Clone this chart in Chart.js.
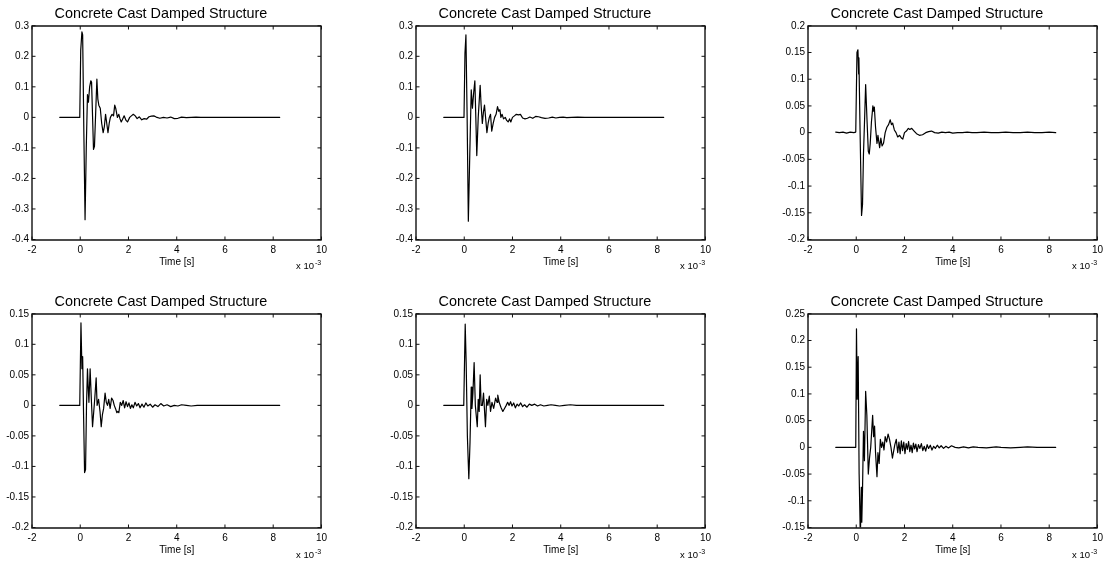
<!DOCTYPE html>
<html>
<head>
<meta charset="utf-8">
<title>Concrete Cast Damped Structure</title>
<script src="https://cdn.jsdelivr.net/npm/chart.js@4.4.1/dist/chart.umd.min.js"></script>
<style>
  html, body { margin: 0; padding: 0; background: #fff; }
  #page { position: relative; width: 1109px; height: 563px; overflow: hidden; font-family: "Liberation Sans", Arial, sans-serif; }
  #page canvas { position: absolute; }
  .expo { position: absolute; font-size: 9.5px; color: #000; white-space: nowrap; line-height: 1; }
  .expo sup { font-size: 7px; position: relative; top: -4px; vertical-align: baseline; margin-left: 1px; }
</style>
</head>
<body>
<div id="page"></div>
<script>
// =====================
// Data (time in units of 1e-3 s)
// =====================
const chartTitle = "Concrete Cast Damped Structure";
const xLabel = "Time [s]";
const xTicks = [-2, 0, 2, 4, 6, 8, 10];

const yTicksA = [-0.4, -0.3, -0.2, -0.1, 0, 0.1, 0.2, 0.3];
const yTicksB = [-0.2, -0.15, -0.1, -0.05, 0, 0.05, 0.1, 0.15, 0.2];
const yTicksC = [-0.2, -0.15, -0.1, -0.05, 0, 0.05, 0.1, 0.15];
const yTicksD = [-0.15, -0.1, -0.05, 0, 0.05, 0.1, 0.15, 0.2, 0.25];

const t1 = [
  -0.85, -0.02, 0.02, 0.07, 0.10, 0.15, 0.20, 0.25, 0.30, 0.34,
  0.39, 0.44, 0.47, 0.55, 0.59, 0.69, 0.73, 0.77, 0.83, 0.89,
  0.95, 1.00, 1.05, 1.10, 1.15, 1.20, 1.25, 1.32, 1.38, 1.43,
  1.47, 1.54, 1.60, 1.65, 1.70, 1.76, 1.82, 1.90, 1.96, 2.05,
  2.12, 2.20, 2.28, 2.36, 2.45, 2.55, 2.65, 2.75, 2.85, 2.95,
  3.05, 3.15, 3.30, 3.45, 3.60, 3.75, 3.90, 4.05, 4.20, 4.40,
  4.60, 4.80, 5.00, 8.27
];
const v1 = [
  0, 0, 0.22, 0.28, 0.27, -0.05, -0.335, -0.10, 0.075, 0.05,
  0.10, 0.12, 0.115, -0.105, -0.095, 0.125, 0.06, 0.04, 0.03, -0.02,
  -0.05, -0.03, 0.01, -0.02, -0.05, -0.02, 0.0, 0.01, 0.005, 0.04,
  0.03, 0.0, 0.01, -0.005, -0.015, -0.005, 0.005, -0.01, -0.015, 0.0,
  0.005, 0.01, 0.005, -0.004, 0.002, -0.008, -0.004, -0.006, 0.002, 0.004,
  0.005, 0.001, -0.003, 0.0, -0.002, 0.001, -0.004, -0.003, 0.001, -0.001,
  0.0, 0.001, 0.0, 0
];

const t2 = [
  -0.85, -0.01, 0.03, 0.07, 0.12, 0.17, 0.23, 0.29, 0.34, 0.39,
  0.44, 0.48, 0.52, 0.58, 0.66, 0.70, 0.75, 0.80, 0.84, 0.94,
  0.99, 1.04, 1.09, 1.14, 1.20, 1.26, 1.32, 1.38, 1.43, 1.48,
  1.52, 1.57, 1.63, 1.70, 1.76, 1.82, 1.88, 1.93, 2.00, 2.08,
  2.16, 2.25, 2.33, 2.42, 2.52, 2.62, 2.72, 2.84, 2.96, 3.08,
  3.20, 3.35, 3.50, 3.65, 3.80, 3.95, 4.10, 4.25, 4.45, 4.70,
  5.00, 8.27
];
const v2 = [
  0, 0, 0.21, 0.27, 0.0, -0.34, -0.12, 0.09, 0.03, 0.08,
  0.12, 0.0, -0.125, 0.0, 0.105, 0.04, -0.02, 0.02, 0.04, -0.05,
  -0.02, 0.0, 0.01, -0.045, -0.02, 0.0, 0.01, 0.035, 0.02, 0.025,
  0.0, 0.01, -0.005, 0.0, -0.01, -0.015, -0.005, -0.015, 0.0, 0.005,
  0.01, 0.008, 0.01, -0.002, -0.005, -0.003, 0.001, -0.003, 0.003, 0.002,
  -0.001, -0.003, -0.002, 0.001, -0.002, 0.0, 0.001, -0.001, 0.0, 0.001,
  0.0, 0
];

const t3 = [
  -0.85, -0.70, -0.55, -0.40, -0.25, -0.10, -0.02, 0.03, 0.07, 0.10,
  0.11, 0.16, 0.22, 0.26, 0.30, 0.35, 0.39, 0.45, 0.50, 0.54,
  0.58, 0.63, 0.69, 0.72, 0.75, 0.80, 0.86, 0.90, 0.97, 1.02,
  1.07, 1.13, 1.20, 1.27, 1.34, 1.41, 1.46, 1.51, 1.58, 1.65,
  1.72, 1.80, 1.87, 1.93, 2.00, 2.08, 2.16, 2.22, 2.30, 2.40,
  2.50, 2.62, 2.75, 2.88, 3.00, 3.12, 3.25, 3.40, 3.55, 3.70,
  3.85, 4.00, 4.20, 4.40, 4.60, 4.80, 5.00, 5.30, 5.60, 5.90,
  6.20, 6.50, 6.80, 7.10, 7.40, 7.70, 8.00, 8.27
];
const v3 = [
  0.001, 0.0, 0.001, -0.001, 0.001, 0.0, 0.001, 0.15, 0.155, 0.11,
  0.14, 0.0, -0.155, -0.135, -0.04, 0.03, 0.09, 0.02, -0.035, -0.04,
  -0.02, 0.02, 0.05, 0.04, 0.048, 0.01, -0.02, -0.005, -0.028, -0.01,
  -0.025, -0.02, 0.0, 0.01, 0.015, 0.024, 0.015, 0.018, 0.005, 0.0,
  -0.008, -0.005, -0.01, -0.012, 0.0, 0.003, 0.008, 0.006, 0.008, 0.003,
  -0.002, -0.005, -0.004, 0.0, 0.002, 0.003, 0.0, -0.001, 0.001, 0.0,
  0.001, -0.001, 0.0, 0.0, 0.001, 0.0, 0.0, 0.001, 0.0, 0.0,
  0.001, 0.0, 0.0, 0.001, 0.0, 0.0, 0.001, 0.0
];

const t4 = [
  -0.85, -0.02, 0.03, 0.07, 0.10, 0.14, 0.18, 0.22, 0.26, 0.30,
  0.33, 0.36, 0.41, 0.46, 0.51, 0.56, 0.60, 0.66, 0.70, 0.76,
  0.82, 0.87, 0.92, 0.97, 1.03, 1.08, 1.13, 1.18, 1.24, 1.30,
  1.36, 1.41, 1.46, 1.52, 1.56, 1.60, 1.66, 1.72, 1.78, 1.84,
  1.90, 1.96, 2.02, 2.08, 2.14, 2.20, 2.27, 2.34, 2.41, 2.48,
  2.56, 2.64, 2.72, 2.80, 2.90, 3.00, 3.10, 3.22, 3.34, 3.46,
  3.60, 3.75, 3.90, 4.05, 4.20, 4.40, 4.60, 4.85, 8.27
];
const v4 = [
  0, 0, 0.135, 0.06, 0.08, -0.02, -0.11, -0.105, 0.0, 0.06,
  0.03, 0.005, 0.06, 0.01, -0.035, -0.01, 0.01, 0.045, 0.0, 0.01,
  -0.01, -0.035, -0.015, -0.005, 0.02, 0.005, 0.0, 0.01, -0.005, 0.012,
  0.008, 0.0, -0.005, -0.012, -0.01, -0.012, 0.005, 0.0, 0.008, -0.004,
  0.006, -0.002, 0.004, -0.005, 0.001, -0.004, 0.005, -0.001, 0.003, -0.004,
  0.002, -0.003, 0.004, -0.001, 0.002, -0.003, 0.001, -0.002, 0.003, -0.001,
  0.001, -0.002, 0.0, -0.001, 0.001, 0.0, -0.001, 0.0, 0
];

const t5 = [
  -0.85, -0.02, 0.04, 0.08, 0.13, 0.19, 0.24, 0.29, 0.32, 0.36,
  0.41, 0.46, 0.54, 0.58, 0.62, 0.66, 0.70, 0.75, 0.80, 0.88,
  0.93, 0.98, 1.04, 1.09, 1.15, 1.22, 1.30, 1.36, 1.39, 1.45,
  1.52, 1.60, 1.67, 1.74, 1.80, 1.86, 1.92, 1.98, 2.05, 2.12,
  2.19, 2.26, 2.34, 2.42, 2.50, 2.60, 2.70, 2.80, 2.92, 3.04,
  3.16, 3.30, 3.45, 3.60, 3.78, 3.95, 4.15, 4.40, 4.65, 8.27
];
const v5 = [
  0, 0, 0.133, 0.07, -0.05, -0.12, -0.06, 0.03, -0.005, 0.02,
  0.07, 0.0, -0.035, 0.01, -0.01, 0.05, 0.0, 0.0, 0.02, -0.035,
  0.01, 0.0, 0.015, -0.01, 0.005, -0.005, 0.012, 0.005, 0.017, 0.005,
  -0.003, -0.01, -0.005, 0.0, 0.005, 0.0, 0.006, -0.001, 0.004, -0.004,
  0.002, -0.001, 0.004, -0.002, 0.001, -0.003, 0.002, 0.0, 0.002, -0.001,
  0.001, -0.001, 0.0, 0.001, 0.0, -0.001, 0.0, 0.001, 0.0, 0
];

const t6 = [
  -0.85, -0.02, 0.01, 0.04, 0.08, 0.12, 0.17, 0.21, 0.23, 0.26,
  0.30, 0.34, 0.39, 0.44, 0.50, 0.55, 0.60, 0.68, 0.72, 0.76,
  0.80, 0.86, 0.90, 0.95, 1.00, 1.05, 1.10, 1.15, 1.20, 1.26,
  1.32, 1.38, 1.44, 1.50, 1.54, 1.60, 1.66, 1.72, 1.77, 1.82,
  1.87, 1.92, 1.97, 2.02, 2.07, 2.12, 2.17, 2.22, 2.27, 2.32,
  2.37, 2.42, 2.47, 2.52, 2.58, 2.64, 2.70, 2.76, 2.82, 2.88,
  2.94, 3.00, 3.07, 3.14, 3.21, 3.28, 3.36, 3.44, 3.52, 3.62,
  3.72, 3.82, 3.95, 4.10, 4.25, 4.45, 4.65, 4.85, 5.05, 5.40,
  5.80, 6.00, 6.40, 6.80, 7.10, 7.50, 8.27
];
const v6 = [
  0, 0, 0.222, 0.09, 0.17, -0.05, -0.17, -0.075, -0.14, -0.08,
  0.03, -0.025, 0.105, 0.06, -0.05, -0.02, 0.0, 0.06, 0.02, 0.04,
  -0.01, -0.055, -0.01, -0.03, 0.015, 0.0, 0.01, -0.005, 0.02, 0.01,
  0.025, 0.015, 0.0, -0.02, -0.01, 0.005, 0.015, -0.01, 0.01, -0.012,
  0.012, -0.006, 0.01, -0.012, 0.007, -0.004, 0.011, -0.008, 0.004, -0.01,
  0.008, -0.003, 0.006, -0.008, 0.005, -0.002, 0.007, -0.006, 0.002, -0.007,
  0.005, -0.002, 0.004, -0.005, 0.002, -0.002, 0.004, -0.001, 0.003, -0.002,
  0.002, -0.001, 0.003, 0.0, -0.001, 0.001, -0.001, 0.001, 0.0, -0.001,
  0.001, 0.0, -0.001, 0.0, 0.001, 0.0, 0
];

// =====================
// Layout
// =====================
const FONT = '"Liberation Sans", Arial, sans-serif';
const CANVAS_W = 332;
const CANVAS_H = 280;
const Y_AXIS_W = 32;
const TITLE_H = 25.8;
const PLOT_H = 213.7;

const panels = [
  { t: t1, v: v1, yTicks: yTicksA, plotLeft: 32, plotTop: 25.7 },
  { t: t2, v: v2, yTicks: yTicksA, plotLeft: 416, plotTop: 25.7 },
  { t: t3, v: v3, yTicks: yTicksB, plotLeft: 808, plotTop: 25.7 },
  { t: t4, v: v4, yTicks: yTicksC, plotLeft: 32, plotTop: 314 },
  { t: t5, v: v5, yTicks: yTicksC, plotLeft: 416, plotTop: 314 },
  { t: t6, v: v6, yTicks: yTicksD, plotLeft: 808, plotTop: 314 }
];

// =====================
// Box + inward ticks (MATLAB style)
// =====================
const framePlugin = {
  id: "matlabFrame",
  afterDraw(chart) {
    const ctx = chart.ctx;
    const a = chart.chartArea;
    const sx = chart.scales.x, sy = chart.scales.y;
    const L = Math.round(a.left), R = Math.round(a.right);
    const T = Math.round(a.top), B = Math.round(a.bottom);
    const len = 3.5;
    ctx.save();
    ctx.strokeStyle = "#111";
    ctx.lineWidth = 1.4;
    ctx.lineCap = "square";
    ctx.beginPath();
    ctx.rect(L, T, R - L, B - T);
    ctx.stroke();
    ctx.lineWidth = 1;
    ctx.lineCap = "butt";
    ctx.beginPath();
    sx.ticks.forEach(tk => {
      const px = sx.getPixelForValue(tk.value);
      ctx.moveTo(px, B); ctx.lineTo(px, B - len);
      ctx.moveTo(px, T); ctx.lineTo(px, T + len);
    });
    sy.ticks.forEach(tk => {
      const py = sy.getPixelForValue(tk.value);
      ctx.moveTo(L, py); ctx.lineTo(L + len, py);
      ctx.moveTo(R, py); ctx.lineTo(R - len, py);
    });
    ctx.stroke();
    ctx.restore();
  }
};

// =====================
// Build charts
// =====================
const page = document.getElementById("page");

panels.forEach(p => {
  const canvas = document.createElement("canvas");
  canvas.width = CANVAS_W;
  canvas.height = CANVAS_H;
  canvas.style.width = CANVAS_W + "px";
  canvas.style.height = CANVAS_H + "px";
  canvas.style.left = (p.plotLeft - Y_AXIS_W) + "px";
  canvas.style.top = (p.plotTop - TITLE_H) + "px";
  page.appendChild(canvas);

  const points = p.t.map((x, i) => ({ x, y: p.v[i] }));
  const yMin = p.yTicks[0];
  const yMax = p.yTicks[p.yTicks.length - 1];

  new Chart(canvas.getContext("2d"), {
    type: "line",
    data: {
      datasets: [{
        data: points,
        borderColor: "#000",
        borderWidth: 1.2,
        borderJoinStyle: "round",
        borderCapStyle: "round",
        pointRadius: 0,
        tension: 0,
        fill: false
      }]
    },
    options: {
      responsive: false,
      animation: false,
      devicePixelRatio: 1,
      layout: { padding: { left: 0, right: 10, top: 0, bottom: 0 } },
      plugins: {
        legend: { display: false },
        tooltip: { enabled: false },
        title: {
          display: true,
          text: chartTitle,
          color: "#000",
          font: { family: FONT, size: 14.4, weight: "normal" },
          padding: { top: 5.5, bottom: 3 }
        }
      },
      scales: {
        x: {
          type: "linear",
          min: xTicks[0],
          max: xTicks[xTicks.length - 1],
          afterBuildTicks: s => { s.ticks = xTicks.map(v => ({ value: v })); },
          afterFit: s => { s.height = CANVAS_H - TITLE_H - PLOT_H; },
          grid: { display: false, drawTicks: false },
          border: { display: false },
          ticks: {
            autoSkip: false,
            maxRotation: 0,
            padding: 5,
            color: "#000",
            font: { family: FONT, size: 10 },
            callback: v => String(v)
          },
          title: {
            display: true,
            text: xLabel,
            color: "#000",
            font: { family: FONT, size: 10 },
            padding: { top: 0, bottom: 12 }
          }
        },
        y: {
          min: yMin,
          max: yMax,
          afterBuildTicks: s => { s.ticks = p.yTicks.map(v => ({ value: v })); },
          afterFit: s => { s.width = Y_AXIS_W; },
          grid: { display: false, drawTicks: false },
          border: { display: false },
          ticks: {
            autoSkip: false,
            padding: 3,
            color: "#000",
            font: { family: FONT, size: 10 },
            callback: v => String(v)
          }
        }
      }
    },
    plugins: [framePlugin]
  });

  // exponent label under the right end of the x axis
  const plotRight = p.plotLeft + CANVAS_W - Y_AXIS_W - 10;
  const plotBottom = p.plotTop + PLOT_H;
  const expo = document.createElement("div");
  expo.className = "expo";
  expo.innerHTML = "x 10<sup>-3</sup>";
  expo.style.left = (plotRight - 26) + "px";
  expo.style.top = (plotBottom + 22) + "px";
  page.appendChild(expo);
});
</script>
</body>
</html>
